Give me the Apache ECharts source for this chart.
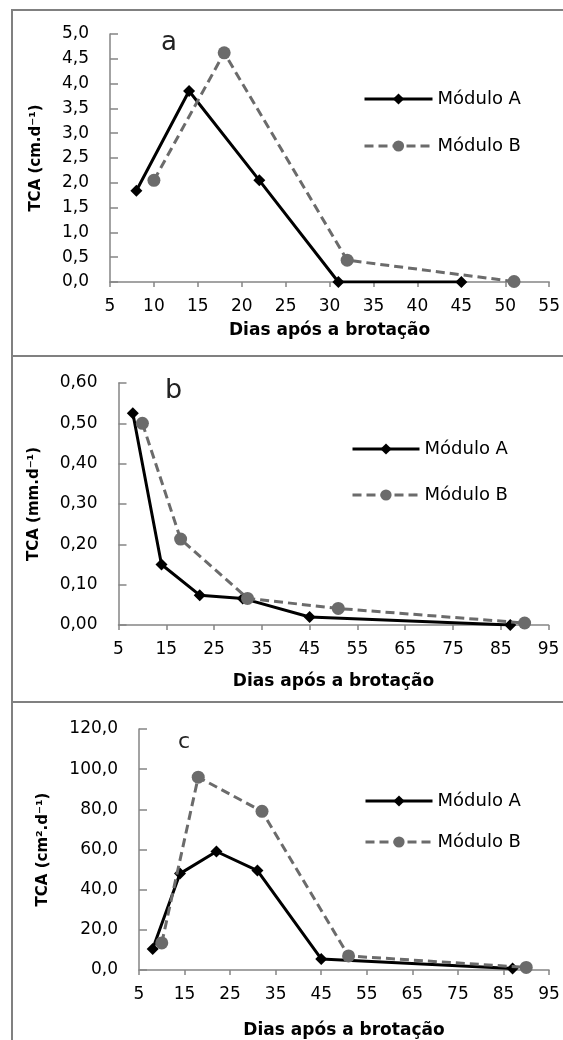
<!DOCTYPE html>
<html>
<head>
<meta charset="utf-8">
<script src="https://cdn.jsdelivr.net/npm/echarts@6/dist/echarts.min.js"></script>
<style>
html,body{margin:0;padding:0;background:#fff;}
#chart{width:563px;height:1040px;}
</style>
</head>
<body>
<div id="chart"></div>
<script>
// ---- Data ----
const seriesNames = ['Módulo A', 'Módulo B'];
// Panel a: TCA (cm.d-1)
const daysA_a = [8, 14, 22, 31, 45];
const tcaA_a  = [1.84, 3.85, 2.05, 0.0, 0.0];
const daysB_a = [10, 18, 32, 51];
const tcaB_a  = [2.05, 4.62, 0.44, 0.01];
// Panel b: TCA (mm.d-1)
const daysA_b = [8, 14, 22, 31, 45, 87];
const tcaA_b  = [0.525, 0.15, 0.074, 0.066, 0.02, 0.0];
const daysB_b = [10, 18, 32, 51, 90];
const tcaB_b  = [0.50, 0.213, 0.066, 0.041, 0.005];
// Panel c: TCA (cm2.d-1)
const daysA_c = [8, 14, 22, 31, 45, 87];
const tcaA_c  = [10.5, 48.0, 59.0, 49.5, 5.5, 0.8];
const daysB_c = [10, 18, 32, 51, 90];
const tcaB_c  = [13.5, 96.0, 79.0, 7.0, 1.3];
// Axis text
const panelLetters = ['a', 'b', 'c'];
const yNames = ['TCA (cm.d⁻¹)', 'TCA (mm.d⁻¹)', 'TCA (cm².d⁻¹)'];
const xName = 'Dias após a brotação';

const pairs = (xs, ys) => xs.map((x, i) => [x, ys[i]]);
const FONT = 'DejaVu Sans';
const AXIS_COLOR = '#858585';

const grids = [
  {left: 110, top: 34, width: 445, height: 248},
  {left: 118.5, top: 383, width: 430, height: 242},
  {left: 139, top: 729, width: 410, height: 247}
];
const xCfg = [
  {min: 5, max: 55, interval: 5, nameGap: 40},
  {min: 5, max: 95, interval: 10, nameGap: 48},
  {min: 5, max: 95, interval: 10, nameGap: 52}
];
const yCfg = [
  {min: 0, max: 5, interval: 0.5, dec: 1, nameGap: 66},
  {min: 0, max: 0.6, interval: 0.1, dec: 2, nameGap: 77},
  {min: 0, max: 120, interval: 20, dec: 1, nameGap: 88}
];

const xAxis = xCfg.map((c, i) => ({
  type: 'value', gridIndex: i, min: c.min, max: c.max, interval: c.interval,
  name: xName, nameLocation: 'middle', nameGap: c.nameGap,
  nameTextStyle: {fontFamily: FONT, fontWeight: 'bold', fontSize: 17, color: '#000'},
  axisLine: {show: true, lineStyle: {color: AXIS_COLOR, width: 1.5}},
  axisTick: {show: true, inside: false, length: 5, lineStyle: {color: AXIS_COLOR, width: 1.5}},
  axisLabel: {fontFamily: FONT, fontSize: 17, color: '#000', margin: 16},
  splitLine: {show: false}
}));
const yAxis = yCfg.map((c, i) => ({
  type: 'value', gridIndex: i, min: c.min, max: c.max, interval: c.interval,
  name: yNames[i], nameLocation: 'middle', nameGap: c.nameGap,
  nameTextStyle: {fontFamily: FONT, fontWeight: 'bold', fontSize: 15, color: '#000'},
  axisLine: {show: true, lineStyle: {color: AXIS_COLOR, width: 1.5}},
  axisTick: {show: true, inside: true, length: 8, lineStyle: {color: AXIS_COLOR, width: 1.5}},
  axisLabel: {fontFamily: FONT, fontSize: 17, color: '#000', margin: 21,
    formatter: v => v.toFixed(c.dec).replace('.', ',')},
  splitLine: {show: false}
}));

const dataSets = [
  [pairs(daysA_a, tcaA_a), pairs(daysB_a, tcaB_a)],
  [pairs(daysA_b, tcaA_b), pairs(daysB_b, tcaB_b)],
  [pairs(daysA_c, tcaA_c), pairs(daysB_c, tcaB_c)]
];
const series = [];
dataSets.forEach((d, i) => {
  series.push({
    name: seriesNames[0], type: 'line', xAxisIndex: i, yAxisIndex: i, data: d[0],
    symbol: 'diamond', symbolSize: 12, showAllSymbol: true,
    lineStyle: {color: '#000', width: 3},
    itemStyle: {color: '#000'}, z: 2
  });
  series.push({
    name: seriesNames[1], type: 'line', xAxisIndex: i, yAxisIndex: i, data: d[1],
    symbol: 'circle', symbolSize: 13, showAllSymbol: true,
    lineStyle: {color: '#6b6b6b', width: 3, type: [9, 5]},
    itemStyle: {color: '#6b6b6b'}, z: 3
  });
});

const legendPos = [
  {left: 358, top: 85, itemGap: 29, itemWidth: 68},
  {left: 346, top: 435, itemGap: 28, itemWidth: 67},
  {left: 359, top: 787, itemGap: 23, itemWidth: 67}
];
const legend = legendPos.map(p => ({
  orient: 'vertical', left: p.left, top: p.top, itemGap: p.itemGap,
  itemWidth: p.itemWidth, itemHeight: 14,
  data: seriesNames,
  lineStyle: {width: 3},
  textStyle: {fontFamily: FONT, fontSize: 18, color: '#000'},
  selectedMode: false
}));

const letterPos = [
  {x: 161, y: 43, size: 26},
  {x: 165, y: 391, size: 27},
  {x: 178, y: 742, size: 22}
];
const graphic = [
  {type: 'rect', shape: {x: 12, y: 10, width: 600, height: 346}, style: {fill: 'none', stroke: '#808080', lineWidth: 2}, silent: true},
  {type: 'rect', shape: {x: 12, y: 356, width: 600, height: 346}, style: {fill: 'none', stroke: '#808080', lineWidth: 2}, silent: true},
  {type: 'rect', shape: {x: 12, y: 702, width: 600, height: 400}, style: {fill: 'none', stroke: '#808080', lineWidth: 2}, silent: true}
].concat(letterPos.map((p, i) => ({
  type: 'text', x: p.x, y: p.y, silent: true,
  style: {text: panelLetters[i], fontFamily: FONT, fontSize: p.size, fill: '#222', align: 'left', verticalAlign: 'middle'}
})));

const chart = echarts.init(document.getElementById('chart'), null, {renderer: 'canvas'});
chart.setOption({
  backgroundColor: '#fff',
  animation: false,
  grid: grids,
  xAxis: xAxis,
  yAxis: yAxis,
  legend: legend,
  series: series,
  graphic: graphic
});
</script>
</body>
</html>
